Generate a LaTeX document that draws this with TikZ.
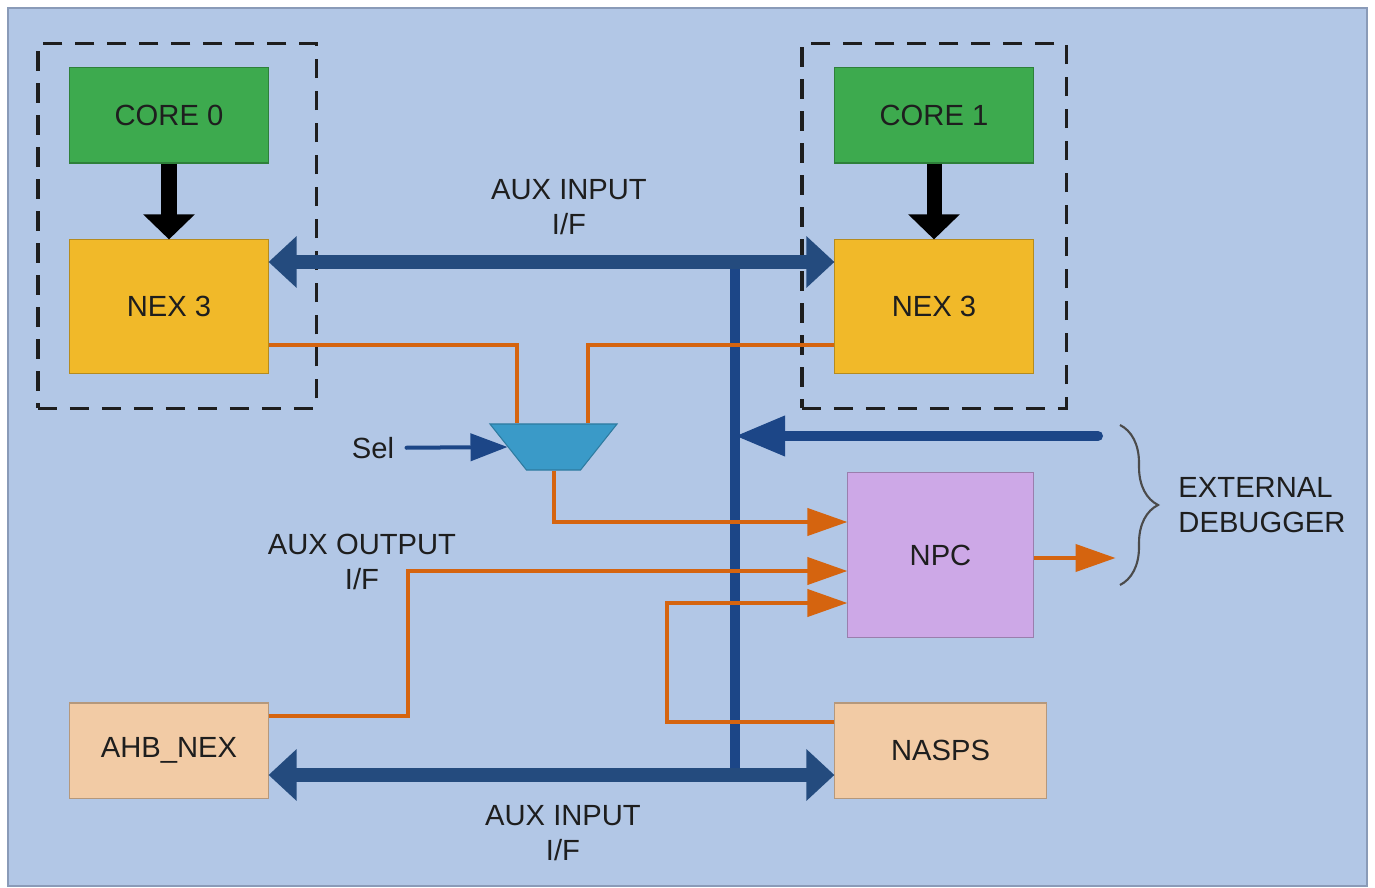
\documentclass[tikz,border=0pt]{standalone}
\usepackage{fontspec}
\setmainfont{Liberation Sans}
\usepackage{xcolor}
\usepackage{tikz}
\usetikzlibrary{arrows.meta, positioning, shapes.geometric, calc, decorations.pathreplacing}
\definecolor{fond}{HTML}{B2C7E6}
\definecolor{bord}{HTML}{8A9BB8}
\definecolor{encre}{HTML}{1E1E1E}
\definecolor{vertcoeur}{HTML}{3DAA4E}
\definecolor{jaune}{HTML}{F1B929}
\definecolor{peche}{HTML}{F2CBA5}
\definecolor{violet}{HTML}{CDA8E7}
\definecolor{bleubus}{HTML}{244B7E}
\definecolor{bleufonce}{HTML}{1C4687}
\definecolor{orangefil}{HTML}{D5640F}
\definecolor{muxbleu}{HTML}{3A9AC8}

\begin{document}
\begin{tikzpicture}[x=0.01cm, y=-0.01cm,
    txt/.style={font=\fontsize{8.3}{10}\selectfont, text=encre, align=center},
    bloc/.style={txt, fill=#1, draw=#1!75!black, line width=0.3pt, inner sep=0pt,
      minimum width=1.98cm, minimum height=0.95cm},
    cadre/.style={draw=encre, line width=0.9pt, dash pattern=on 5.5pt off 3.6pt,
      inner sep=0pt},
    bus/.style={draw=bleufonce, line width=0.1cm},
    grosbus/.style={draw=bleubus, line width=0.14cm,
      {Triangle[length=0.28cm, width=0.5cm]}-{Triangle[length=0.28cm, width=0.5cm]}},
    noire/.style={draw=black, line width=0.15cm, -{Triangle[length=0.25cm, width=0.5cm]}},
    fil/.style={draw=orangefil, line width=0.04cm},
    filfleche/.style={fil, -{Triangle[length=0.4cm, width=0.27cm]}},
  ]
    \useasboundingbox (0,0) rectangle (1375,888);
    \fill[fond, draw=bord, line width=0.6pt] (8,8) rectangle (1367,886);

    \node[cadre, minimum width=2.78cm, minimum height=3.64cm] (cadreg) at (177,226) {};
    \node[cadre, minimum width=2.64cm, minimum height=3.64cm] (cadred) at (934,226) {};

    \foreach \cote/\x/\num in {g/169/0, d/934/1} {
      \node[bloc=vertcoeur] (core\cote) at (\x,115.5) {CORE \num};
      \node[bloc=jaune, minimum height=1.33cm] (nex\cote) at (\x,306.5) {NEX 3};
      \draw[noire] (core\cote) -- (nex\cote);
    }
    \node[bloc=violet, minimum width=1.85cm, minimum height=1.64cm] (npc) at (940.5,555) {NPC};
    \node[bloc=peche] (ahb) at (169,750.5) {AHB\_NEX};
    \node[bloc=peche, minimum width=2.11cm] (nasps) at (940.5,750.5) {NASPS};
    \node[trapezium, trapezium left angle=124, trapezium right angle=124,
      trapezium stretches=true, fill=muxbleu, draw=muxbleu!80!black, line width=0.3pt,
      minimum width=1.27cm, minimum height=0.46cm, inner sep=1pt] (mux) at (553.5,447) {};

    \node[txt] (auxin) at (569,207) {AUX INPUT\\I/F};
    \node[txt] (auxout) at (362,562) {AUX OUTPUT\\I/F};
    \node[txt] (auxinbas) at (563,833) {AUX INPUT\\I/F};
    \node[txt] (sel) at (373,448) {Sel};
    \node[txt, align=left] (debug) at (1262,505) {EXTERNAL\\DEBUGGER};

    \coordinate (bushaut) at (735,262);
    \coordinate (busbas) at (735,775);
    \coordinate (dbg) at (1098,436);
    \coordinate (acchaut) at (1120,425);
    \coordinate (accbas) at (1120,585);

    \draw[bus] (bushaut) -- (busbas);
    \draw[grosbus] (nexg.east |- bushaut) -- (nexd.west |- bushaut);
    \draw[grosbus] (ahb.east |- busbas) -- (nasps.west |- busbas);
    \draw[bus, line cap=round, -{Triangle[length=0.5cm, width=0.38cm]}] (dbg) -- (dbg -| bushaut);

    \draw[fil] ($(nexg.east)+(0,38.5)$) -| ($(mux.north)+(-36.5,0)$);
    \draw[fil] ($(nexd.west)+(0,38.5)$) -| ($(mux.north)+(34.5,0)$);
    \draw[filfleche] (mux.south) |- ($(npc.west)+(0,-33)$);
    \draw[filfleche] ($(ahb.east)+(0,-34.5)$) -- ++(139,0) |- ($(npc.west)+(0,16)$);
    \draw[filfleche] ($(nasps.west)+(0,-28.5)$) -- ++(-167,0) |- ($(npc.west)+(0,48)$);
    \draw[filfleche] ($(npc.east)+(0,3)$) -- ++(82,0);
    \draw[draw=bleufonce, line width=0.04cm, line cap=round,
      -{Triangle[length=0.37cm, width=0.27cm]}] (sel) -- (mux.west);

    \draw[encre!80, line width=0.6pt, decorate, decoration={brace, amplitude=0.38cm}]
      (acchaut) -- (accbas);
  \end{tikzpicture}
\end{document}
